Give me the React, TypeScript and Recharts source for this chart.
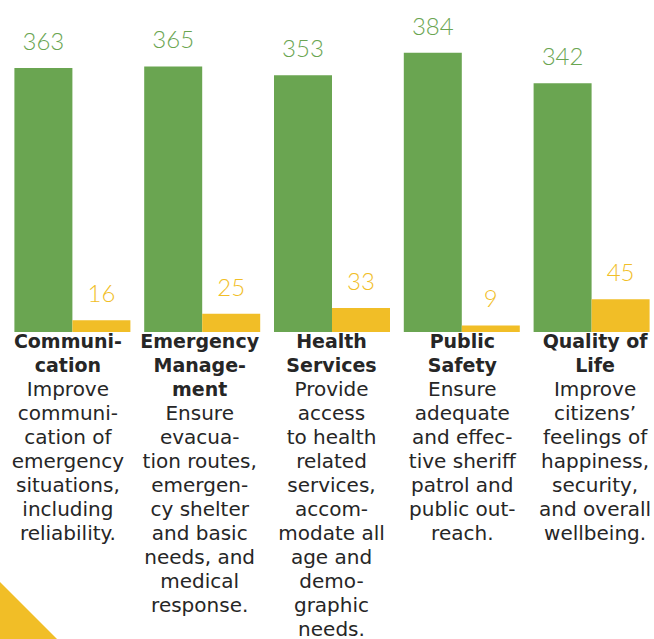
import React from 'react';
import { BarChart, Bar, XAxis, YAxis, LabelList } from 'recharts';

const categories = ['Communication', 'Emergency Management', 'Health Services', 'Public Safety', 'Quality of Life'];
const greenValues = [363, 365, 353, 384, 342];
const yellowValues = [16, 25, 33, 9, 45];

const titleLines = [
  ['Communi-', 'cation'],
  ['Emergency', 'Manage-', 'ment'],
  ['Health', 'Services'],
  ['Public', 'Safety'],
  ['Quality of', 'Life'],
];

const descLines = [
  ['Improve', 'communi-', 'cation of', 'emergency', 'situations,', 'including', 'reliability.'],
  ['Ensure', 'evacua-', 'tion routes,', 'emergen-', 'cy shelter', 'and basic', 'needs, and', 'medical', 'response.'],
  ['Provide', 'access', 'to health', 'related', 'services,', 'accom-', 'modate all', 'age and', 'demo-', 'graphic', 'needs.'],
  ['Ensure', 'adequate', 'and effec-', 'tive sheriff', 'patrol and', 'public out-', 'reach.'],
  ['Improve', 'citizens\u2019', 'feelings of', 'happiness,', 'security,', 'and overall', 'wellbeing.'],
];

const GREEN = '#6aa551';
const YELLOW = '#f1be27';
const TEXT = '#262626';
const FONT = '"DejaVu Sans", sans-serif';
// small horizontal nudge of each text block, as in the original layout
const TEXT_SHIFT = [-4, -2, 0, 1, 4];

const chartData = categories.map((name, i) => ({
  name,
  green: greenValues[i],
  yellow: yellowValues[i],
}));

function CategoryTick(props: any) {
  const { x, y, index } = props;
  const titles = titleLines[index] || [];
  const desc = descLines[index] || [];
  const cx = x + (TEXT_SHIFT[index] || 0);
  const first = y + 7.5;
  return (
    <g>
      {titles.map((t, i) => (
        <text key={'t' + i} x={cx} y={first + i * 24} textAnchor="middle" fill={TEXT}
          fontFamily={FONT} fontWeight="bold" fontSize={19}>{t}</text>
      ))}
      {desc.map((t, i) => (
        <text key={'d' + i} x={cx} y={first + (titles.length + i) * 24} textAnchor="middle" fill={TEXT}
          fontFamily={FONT} fontSize={20}>{t}</text>
      ))}
    </g>
  );
}

export default function App() {
  return (
    <div style={{ position: 'absolute', left: 0, top: 0, width: 654, height: 639, overflow: 'hidden', background: '#fff' }}>
      <svg width={60} height={60} style={{ position: 'absolute', left: 0, top: 579 }}>
        <polygon points="0,3 0,60 57,60" fill={YELLOW} />
      </svg>
      <div style={{ position: 'absolute', left: 0, top: 0 }}>
        <BarChart width={656} height={639} data={chartData}
          margin={{ top: 41, right: 0, bottom: 0, left: 7 }}
          barCategoryGap={7.4} barGap={0}>
          <XAxis dataKey="name" axisLine={false} tickLine={false} height={307} interval={0}
            tick={<CategoryTick />} />
          <YAxis hide domain={[0, 400]} />
          <Bar dataKey="green" fill={GREEN} isAnimationActive={false}>
            <LabelList dataKey="green" position="top" offset={18} fill={GREEN}
              fontFamily="Lato, sans-serif" fontWeight={300} fontSize={24} />
          </Bar>
          <Bar dataKey="yellow" fill={YELLOW} isAnimationActive={false}>
            <LabelList dataKey="yellow" position="top" offset={18} fill={YELLOW}
              fontFamily="Lato, sans-serif" fontWeight={300} fontSize={24} />
          </Bar>
        </BarChart>
      </div>
    </div>
  );
}
